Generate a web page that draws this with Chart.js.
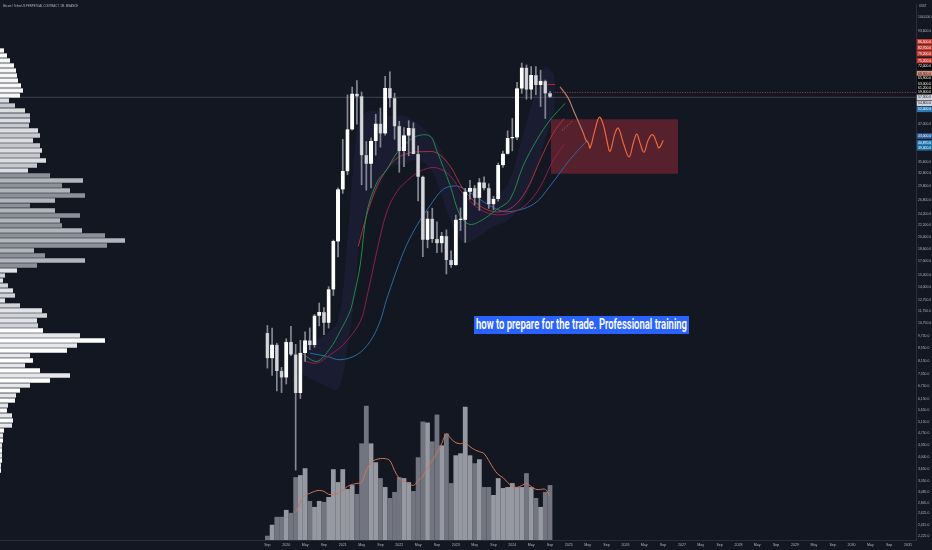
<!DOCTYPE html>
<html>
<head>
<meta charset="utf-8">
<script src="https://cdn.jsdelivr.net/npm/chart.js@4.4.1/dist/chart.umd.min.js"></script>
<style>
  html, body { margin: 0; padding: 0; background: #131722; }
  #wrap { position: relative; width: 932px; height: 550px; overflow: hidden; background: #131722; }
  #main { position: absolute; left: 0; top: 0; }
  #prof { position: absolute; left: 0; top: 47.5px; }
  .tiny { position: absolute; white-space: nowrap; color: #b2b5be; font-family: 'Liberation Sans', sans-serif;
          font-size: 5.6px; transform: scale(0.5); transform-origin: left top; }
  #note { position: absolute; left: 474px; top: 316px; width: 215px; height: 18px; background: #2962ff; overflow: hidden; }
  #note span { position: absolute; left: 2px; top: 0; line-height: 18px; font: 600 14px 'Roboto', sans-serif;
               color: #fff; white-space: nowrap; transform-origin: left center; }
</style>
</head>
<body>
<div id="wrap">
  <canvas id="main" width="932" height="550"></canvas>
  <canvas id="prof" width="150" height="425"></canvas>
  <div class="tiny" style="left:3px;top:4px;">Bitcoin / TetherUS PERPETUAL CONTRACT, 1M, BINANCE</div>
  <div class="tiny" style="left:919px;top:4px;">USDT</div>
  <div id="note"><span>how to prepare for the trade. Professional training</span></div>
</div>
<script>
/* ── Monthly candles, Sep 2019 (idx 0) … Sep 2024 (idx 60) ── */
const opens  = [10000, 8290, 9150, 7540, 7190, 9350, 8520, 6410, 8620, 9450, 9140, 11350, 11650, 10780, 13800, 19700,
                28950, 33110, 45140, 58800, 57700, 37300, 35040, 41460, 47100, 43820, 61300, 56950,
                46210, 38470, 43160, 45510, 37630, 31790, 19930, 23300, 20050, 19420, 20490, 17160,
                16540, 23130, 23140, 28470, 29230, 27210, 30470, 29230, 25940, 26960, 34650, 37720,
                42280, 42580, 61130, 71290, 60670, 67500, 62760, 64600, 58970];
const highs  = [10570, 10370, 9270, 7750, 9580, 10500, 9190, 9470, 10080, 10380, 11470, 12480, 12060, 14100, 19900, 29300,
                41950, 58350, 61800, 64900, 59600, 41300, 42450, 50500, 52920, 67000, 69200, 59100,
                47990, 45800, 48190, 47450, 40000, 31980, 24660, 25200, 22790, 21080, 21460, 18390,
                23950, 25250, 29200, 31000, 29820, 31430, 31800, 30200, 27500, 35200, 38450, 44700,
                48970, 64000, 73880, 72800, 71980, 72000, 70080, 65100, 59800];
const lows   = [7710, 7300, 6510, 6430, 6850, 8450, 3620, 6150, 8100, 8830, 8990, 10540, 9880, 10370, 13200, 17570,
                28130, 32300, 44960, 47000, 30000, 28800, 29280, 37330, 39600, 43280, 53250, 42000,
                32900, 34300, 37150, 37700, 26600, 17600, 18780, 19540, 18130, 18190, 15480, 16250,
                16500, 21350, 19550, 26940, 25810, 24800, 28860, 25170, 24900, 26540, 34100, 37600,
                38550, 41880, 59000, 56500, 56550, 58400, 53500, 49000, 57200];
const closes = [8290, 9150, 7540, 7190, 9350, 8520, 6410, 8620, 9450, 9140, 11350, 11650, 10780, 13800, 19700, 28950,
                33110, 45140, 58800, 57700, 37300, 35040, 41460, 47100, 43820, 61300, 56950, 46210,
                38470, 43160, 45510, 37630, 31790, 19930, 23300, 20050, 19420, 20490, 17160, 16540,
                23130, 23140, 28470, 29230, 27210, 30470, 29230, 25940, 26960, 34650, 37720, 42280,
                42580, 61130, 71290, 60670, 67500, 62760, 64600, 58970, 57500];

/* ── Volume (relative units) and its moving average ── */
const volumes = [4, 15, 23, 23, 30, 27, 63, 65, 72, 39, 33, 39, 38, 43, 71, 58, 71, 51, 55, 46, 97,
                 135, 97, 78, 62, 53, 42, 48, 63, 62, 58, 49, 83, 119, 118, 99, 126, 95, 107, 57, 85,
                 87, 134, 85, 77, 81, 53, 53, 45, 62, 52, 53, 57, 53, 53, 67, 53, 42, 33, 48, 55];
const volumeMA = [null, null, null, null, null, null, 28, 38, 45, 47, 49, 50, 49, 46, 46, 47, 50, 54, 56, 57, 58,
                  70, 78, 81, 82, 82, 80, 70, 62, 59, 57, 55, 60, 64, 73, 80, 88, 97, 107, 102, 98,
                  97, 98, 94, 91, 89, 87, 80, 72, 66, 63, 58, 54, 53, 55, 57, 54, 51, 51, 51, 44];

/* ── Indicator lines (month index, price) ── */
const greenX = [7.6, 10.5, 13.3, 15.4, 17.5, 18.2, 19.7, 21.1, 23.2, 25.3, 27.5, 29.6, 31.7, 34.5, 35.9, 38.8, 40.9, 43.0, 45.8, 48.7, 51.5, 54.3, 57.2, 60.0, 63.2];
const greenY = [8530, 8100, 8910, 10100, 11700, 12780, 16530, 24400, 30400, 33500, 37950, 40870, 43000, 43000, 38800, 29800, 23900, 22350, 23200, 24960, 26870, 34500, 41800, 48400, 54800];
const red1X  = [19.3, 21.1, 23.2, 25.3, 27.5, 30.3, 33.1, 35.9, 38.8, 41.6, 45.1, 48.7, 52.2, 55.1, 57.9, 60.7, 63.0];
const red1Y  = [19000, 24000, 29500, 33500, 36500, 38000, 38300, 38000, 34400, 29000, 25650, 24500, 25500, 29000, 36000, 44000, 49000];
const red2X  = [8.0, 10.5, 13.3, 16.1, 19.7, 21.1, 23.2, 25.3, 27.5, 30.3, 33.1, 35.9, 38.8, 41.6, 45.1, 48.7, 52.2, 55.1, 57.9, 60.7, 63.0];
const red2Y  = [8100, 8000, 8510, 9160, 10870, 13000, 18200, 24400, 28500, 31500, 33500, 34000, 32000, 28000, 25000, 24000, 24500, 26000, 29500, 36000, 40500];
const blueX  = [9.0, 12.6, 15.4, 19.0, 21.8, 23.9, 25.3, 28.9, 31.7, 34.5, 37.3, 40.2, 43.0, 47.3, 50.8, 56.5, 60.0, 64.2, 68.0];
const blueY  = [8610, 8410, 8200, 8510, 9390, 10870, 12800, 18200, 22140, 25650, 28970, 29700, 28300, 25650, 24550, 25950, 29700, 36100, 41800];
const bandX     = [7, 12, 15, 17, 18.5, 20, 23, 26, 29, 32, 35, 38, 40, 42, 45, 48, 51, 54, 57, 59, 61];
const bandUpper = [9000, 9800, 11000, 20000, 38000, 50000, 52000, 50000, 50000, 47000, 43000, 36000, 30000, 27000, 26500, 27500, 30000, 42000, 60000, 72000, 68000];
const bandLower = [7400, 6800, 6600, 9000, 13000, 22000, 28000, 34000, 35000, 36000, 33000, 25000, 21000, 19500, 20500, 22000, 23000, 26000, 33000, 42000, 52000];

/* ── Projection drawing ── */
const projX = [62.12, 63.89, 64.95, 66.01, 67.07, 67.64, 68.13, 68.49, 69.55, 70.47, 71.32, 72.04, 72.74, 73.80, 74.50,
               75.56, 76.77, 77.69, 78.41, 79.11, 79.96, 80.87, 81.80, 82.65, 83.14, 84.05];
const projY = [61970, 56850, 52160, 47900, 43960, 41650, 40860, 39370, 45040, 49460, 46730, 41850, 38440, 43960, 45600,
               40860, 36850, 40860, 43650, 40860, 38150, 41850, 43440, 40860, 39370, 41650];
const dotX = [62.6, 64.0, 64.7];
const dotY = [44950, 46800, 48000];
const zoneX = [60.2, 87.2];
const zoneTop = 48700, zoneBottom = 32500;
const priceLine = 57300, dottedLevel = 59400, shortLevel = 63000;

/* ── Axis ticks ── */
const xTickIdx = [0, 4, 8, 12, 16, 20, 24, 28, 32, 36, 40, 44, 48, 52, 56, 60, 64, 68, 72, 76, 80, 84, 88, 92, 96, 100, 104, 108, 112, 116, 120, 124, 128, 132, 136];
const xTickLabels = ['Sep', '2020', 'May', 'Sep', '2021', 'May', 'Sep', '2022', 'May', 'Sep', '2023', 'May', 'Sep', '2024', 'May', 'Sep',
                     '2025', 'May', 'Sep', '2026', 'May', 'Sep', '2027', 'May', 'Sep', '2028', 'May', 'Sep', '2029', 'May', 'Sep', '2030', 'May', 'Sep', '2031'];
const yTicks = [104000, 93600, 47000, 35600, 32800, 29800, 26800, 24200, 22200, 20400, 18600, 17000, 15400, 14000, 12750, 11750,
                10750, 9750, 8950, 8150, 7350, 6750, 6150, 5650, 5150, 4750, 4350, 4000, 3650, 3350, 3085, 2845, 2625, 2415, 2225];
const tagValues = [86500, 82700, 79200, 75200, 72000, 68300, 65900, 63000, 61200, 59400, 57300, 54800, 52400, 43000, 40870, 39400];
const tagFill   = ['#c23a30', '#c23a30', '#c23a30', '#c23a30', '#050505', '#d9937d', '#050505', '#050505', '#050505', '#050505',
                   '#d1d4dc', '#d1d4dc', '#2a7ab8', '#2a5f9e', '#1f78b0', '#1d6e9c'];
const tagInk    = ['#fff', '#fff', '#fff', '#fff', '#fff', '#131722', '#fff', '#fff', '#fff', '#fff',
                   '#131722', '#131722', '#fff', '#fff', '#fff', '#fff'];

/* ── Left volume profile, rows top → bottom ── */
const profileRows = [4, 7, 10, 14, 16, 17, 18, 21, 23, 20, 9, 15, 25, 30, 30, 29, 38, 40, 33, 40, 42, 40, 46, 37, 28,
                     50, 83, 62, 70, 85, 55, 30, 55, 80, 60, 62, 82, 105, 125, 107, 34, 45, 85, 37, 17,
                     5, 3, 8, 13, 15, 5, 20, 42, 47, 37, 38, 43, 80, 105, 77, 67, 30, 33, 25, 40,
                     70, 50, 30, 20, 16, 15, 8, 7, 12, 13, 12, 4, 3, 3, 2, 2, 2, 2, 1, 1];

Chart.defaults.font.family = "'Liberation Sans', sans-serif";

/* ── Layout constants (chart area 0..916 x 0..540) ── */
const X_MIN = -56.77, X_MAX = 137.7;
const Y_MIN = 2157, Y_MAX = 114360;

const idx = closes.map((_, i) => i);
const isUp = i => closes[i] >= opens[i];
const pts = (xs, ys) => xs.map((x, i) => ({ x, y: ys[i] }));
const fmt = v => v.toLocaleString('en-US', { minimumFractionDigits: 1, maximumFractionDigits: 1 });

function lineDs(data, color, extra) {
  return Object.assign({
    type: 'line', data, borderColor: color, borderWidth: 1, pointRadius: 0,
    tension: 0.35, fill: false, yAxisID: 'y', order: 4
  }, extra || {});
}

new Chart(document.getElementById('main'), {
  type: 'bar',
  data: {
    datasets: [
      // candle bodies
      { data: idx.map(i => ({ x: i, y: [opens[i], closes[i]] })),
        backgroundColor: idx.map(i => isUp(i) ? '#ffffff' : '#d3d5db'),
        borderColor: idx.map(i => isUp(i) ? '#ffffff' : '#9598a1'), borderWidth: 0.6,
        barThickness: 3.4, minBarLength: 1, grouped: false, yAxisID: 'y', order: 1 },
      // wicks
      { data: idx.map(i => ({ x: i, y: [lows[i], highs[i]] })),
        backgroundColor: '#868993', barThickness: 1, grouped: false, yAxisID: 'y', order: 2 },
      // volume
      { data: idx.map(i => ({ x: i, y: volumes[i] })),
        backgroundColor: idx.map(i => isUp(i) ? 'rgba(165,167,175,0.9)' : 'rgba(125,128,138,0.9)'),
        barThickness: 4.1, grouped: false, yAxisID: 'yv', order: 6 },
      lineDs(idx.filter(i => volumeMA[i] !== null).map(i => ({ x: i, y: volumeMA[i] })), '#cf7455', { yAxisID: 'yv', order: 5 }),
      // purple band
      lineDs(pts(bandX, bandUpper), 'rgba(90,70,160,0.0)', { fill: '+1', backgroundColor: 'rgba(92,72,170,0.11)', order: 8 }),
      lineDs(pts(bandX, bandLower), 'rgba(90,70,160,0.0)', { order: 8 }),
      // moving averages
      lineDs(pts(greenX, greenY), '#23894a'),
      lineDs(pts(red1X, red1Y), '#a8343b'),
      lineDs(pts(red2X, red2Y), '#8e1f4f'),
      lineDs(pts(blueX, blueY), '#2b6ca3'),
      // price line + levels
      lineDs([{ x: X_MIN, y: priceLine }, { x: X_MAX, y: priceLine }], '#3f434e', { tension: 0, order: 9 }),
      lineDs([{ x: 61, y: dottedLevel }, { x: X_MAX, y: dottedLevel }], '#b2404a', { tension: 0, borderDash: [1, 1.5], order: 3 }),
      lineDs([{ x: 59.5, y: shortLevel }, { x: 61.1, y: shortLevel }], '#b22833', { tension: 0, order: 3 }),
      // zone rectangle
      lineDs(pts(zoneX, [zoneTop, zoneTop]), 'rgba(0,0,0,0)', { tension: 0, borderWidth: 0,
        fill: { value: zoneBottom }, backgroundColor: 'rgba(242,54,69,0.3)', order: 7 }),
      // projected path
      lineDs(pts(projX, projY), '#ec6a3c', { borderWidth: 1.2, order: 0, tension: 0.4,
        segment: { borderColor: c => c.p0.parsed.x < 66.5 ? '#b97b67' : '#ec6a3c' } }),
      lineDs(pts(dotX, dotY), '#e36b48', { tension: 0, borderDash: [1, 2], order: 0 })
    ]
  },
  options: {
    responsive: false, animation: false, events: [],
    layout: { padding: 0 },
    plugins: { legend: { display: false }, tooltip: { enabled: false } },
    scales: {
      x: {
        type: 'linear', min: X_MIN, max: X_MAX, offset: false, position: 'bottom',
        grid: { display: false, drawTicks: false, offset: false },
        border: { display: true, color: '#2a2e39' },
        ticks: { font: { size: 3.6 }, color: '#b2b5be', padding: 3, autoSkip: false, maxRotation: 0,
                 callback: (v, i) => xTickLabels[i] },
        afterBuildTicks: s => { s.ticks = xTickIdx.map(v => ({ value: v })); },
        afterFit: s => { s.height = 10; }
      },
      y: {
        type: 'logarithmic', position: 'right', min: Y_MIN, max: Y_MAX,
        grid: { display: false, drawTicks: false },
        border: { display: true, color: '#2a2e39' },
        ticks: {
          font: { size: 3.4 }, padding: 2, autoSkip: false,
          color: c => { const k = tagValues.indexOf(c.tick.value); return k >= 0 ? tagInk[k] : '#b2b5be'; },
          showLabelBackdrop: c => tagValues.indexOf(c.tick.value) >= 0,
          backdropColor: c => { const k = tagValues.indexOf(c.tick.value); return k >= 0 ? tagFill[k] : 'transparent'; },
          backdropPadding: { x: 1.2, y: 0.7 },
          callback: v => fmt(v)
        },
        afterBuildTicks: s => { s.ticks = yTicks.concat(tagValues).map(v => ({ value: v })); },
        afterFit: s => { s.width = 16; }
      },
      yv: { type: 'linear', display: false, min: 0, max: 540 }
    }
  }
});

/* ── Volume profile ── */
function profColor(i) {
  const y = 50 + i * 5;
  if (y < 100) return '#f7f7f8';
  if (y < 175) return i % 2 ? '#c6c8ce' : '#dcdde1';
  if (y < 270) return i % 2 ? '#8d9099' : '#b3b5bc';
  if (y < 330) return i % 2 ? '#d0d2d7' : '#e2e3e6';
  return i % 2 ? '#e6e7ea' : '#ffffff';
}
new Chart(document.getElementById('prof'), {
  type: 'bar',
  data: {
    labels: profileRows.map((_, i) => i),
    datasets: [{ data: profileRows, backgroundColor: profileRows.map((_, i) => profColor(i)),
                 barPercentage: 0.86, categoryPercentage: 1, borderWidth: 0 }]
  },
  options: {
    indexAxis: 'y', responsive: false, animation: false, events: [],
    layout: { padding: 0 },
    plugins: { legend: { display: false }, tooltip: { enabled: false } },
    scales: { x: { display: false, min: 0, max: 150 }, y: { display: false } }
  }
});

/* ── Fit the note text into its box ── */
const sp = document.querySelector('#note span');
sp.style.transform = 'scaleX(' + (211 / sp.getBoundingClientRect().width) + ')';
</script>
</body>
</html>
